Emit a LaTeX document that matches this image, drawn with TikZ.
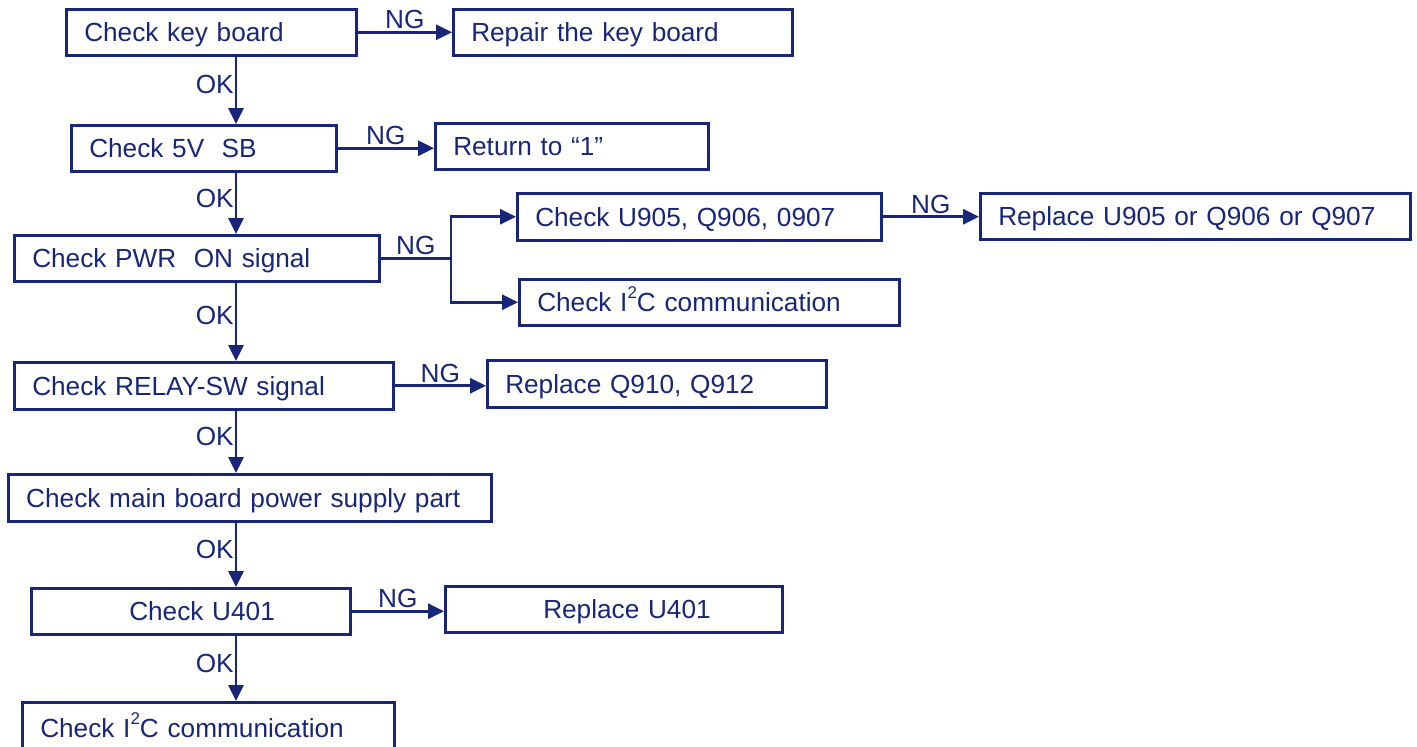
\documentclass[tikz,border=0pt]{standalone}
\usepackage{fontspec}
\setmainfont{Liberation Sans}
\usetikzlibrary{arrows.meta}

\definecolor{navy}{RGB}{24,38,122}

\begin{document}
\begin{tikzpicture}[
  x=1pt, y=-1pt,
  every node/.style = {font=\fontsize{26.2}{30}\selectfont, text=navy},
  box/.style = {draw=navy, line width=2.5pt, anchor=north west, align=left,
                inner xsep=18pt, inner ysep=0pt, text height=19pt, text depth=0pt},
  arrow/.style = {-{Triangle[length=16pt, width=15pt]}, draw=navy, line width=2.7pt},
  ng/.style = {midway, above, inner sep=2pt},
  ok/.style = {pos=0.42, anchor=east, inner sep=1pt}
]
\useasboundingbox (0,0) rectangle (1417,747);

% --- main column
\node[box, text width=254pt, minimum height=46pt] (b1) at (65,8) {Check key board};
\node[box, text width=229pt, minimum height=46pt] (b2) at (70,124) {Check 5V\ \ SB};
\node[box, text width=329pt, minimum height=46pt] (b3) at (13,234) {Check PWR\ \ ON signal};
\node[box, text width=343pt, minimum height=47pt] (b4) at (13,361) {Check RELAY-SW signal};
\node[box, text width=447pt, minimum height=47pt] (b5) at (7,473) {Check main board power supply part};
\node[box, text width=283pt, minimum height=46pt] (b6) at (30,587) {\hspace*{80pt}Check U401};
\node[box, text width=336pt, minimum height=52pt] (b7) at (21,701) {Check I\raisebox{0.5em}{\fontsize{17}{17}\selectfont 2}C communication};

% --- NG branches
\node[box, text width=303pt, minimum height=46pt] (r1) at (452,8) {Repair the key board};
\node[box, text width=237pt, minimum height=46pt] (r2) at (434,122) {Return to “1”};
\node[box, text width=328pt, minimum height=47pt] (r3a) at (516,192) {Check U905, Q906, 0907};
\node[box, text width=394pt, minimum height=46pt] (r3b) at (979,192) {Replace U905 or Q906 or Q907};
\node[box, text width=344pt, minimum height=46pt] (r3c) at (518,278) {Check I\raisebox{0.5em}{\fontsize{17}{17}\selectfont 2}C communication};
\node[box, text width=303pt, minimum height=47pt] (r4) at (486,359) {Replace Q910, Q912};
\node[box, text width=301pt, minimum height=46pt] (r6) at (444,585) {\hspace*{80pt}Replace U401};

\coordinate (spine) at (236,0);
\coordinate (split) at (451,0);

% --- OK arrows
\draw[arrow] (b1.south -| spine) -- (b2.north -| spine) node[ok] {OK};
\draw[arrow] (b2.south -| spine) -- (b3.north -| spine) node[ok] {OK};
\draw[arrow] (b3.south -| spine) -- (b4.north -| spine) node[ok] {OK};
\draw[arrow] (b4.south -| spine) -- (b5.north -| spine) node[ok] {OK};
\draw[arrow] (b5.south -| spine) -- (b6.north -| spine) node[ok] {OK};
\draw[arrow] (b6.south -| spine) -- (b7.north -| spine) node[ok] {OK};

% --- NG arrows
\draw[arrow] (b1.east) -- (b1.east -| r1.west) node[ng] {NG};
\draw[arrow] (b2.east) -- (b2.east -| r2.west) node[ng] {NG};
\draw[arrow] (b3.east) -- (b3.east -| split) node[ng] {NG} |- (r3a.west);
\draw[arrow] (b3.east -| split) |- (r3c.west);
\draw[arrow] (r3a.east) -- (r3a.east -| r3b.west) node[ng] {NG};
\draw[arrow] (b4.east) -- (b4.east -| r4.west) node[ng] {NG};
\draw[arrow] (b6.east) -- (b6.east -| r6.west) node[ng] {NG};

\end{tikzpicture}
\end{document}
